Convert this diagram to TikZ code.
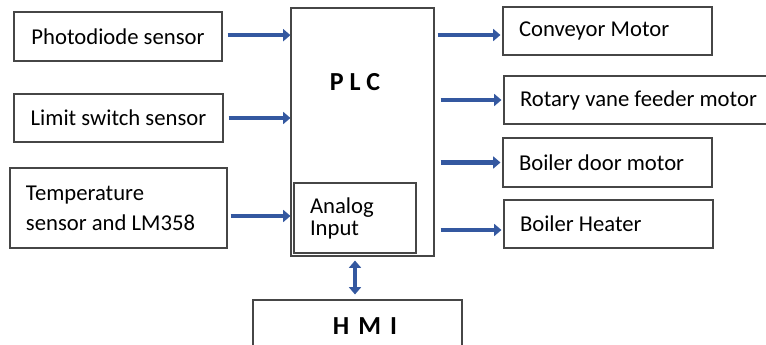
\documentclass[tikz,border=0pt]{standalone}
\usepackage{fontspec}
\setmainfont{Carlito}
\usepackage{xcolor}
\usetikzlibrary{arrows.meta}

\newdimen\pxu \pxu=0.75pt
\definecolor{flowblue}{RGB}{52,88,160}
\definecolor{boxgray}{RGB}{70,70,70}

\tikzset{
  block/.style={rectangle, draw=boxgray, line width=0.8pt, inner sep=0pt, font=\fontsize{17}{21}\selectfont},
  leftbox/.style={block, align=flush left, inner xsep=16\pxu, text width=#1},
  flow/.style={draw=flowblue, line width=3.4pt, -{Triangle[length=5.5pt,width=9pt]}},
  twoway/.style={draw=flowblue, line width=3.4pt, {Triangle[length=5.5pt,width=9pt]}-{Triangle[length=5.5pt,width=9pt]}},
  bigbold/.style={font=\fontsize{19.5}{23}\selectfont\bfseries}
}

\begin{document}
\begin{tikzpicture}[x=0.75pt,y=-0.75pt]
\useasboundingbox (0,0) rectangle (766,345);

% sensors
\node[block, minimum width=208\pxu, minimum height=49\pxu] (photo) at (118,36.5) {Photodiode sensor};
\node[block, minimum width=209\pxu, minimum height=48\pxu] (limit) at (118.5,118) {Limit switch sensor};
\node[leftbox=185\pxu, minimum height=80\pxu, font=\fontsize{17}{22.5}\selectfont] (temp) at (118.5,208) {Temperature\\sensor and LM358};

% controller
\node[block, minimum width=143\pxu, minimum height=248\pxu] (plc) at (362.5,132) {};
\node[bigbold] (plctext) at (355,82) {P L C};
\node[leftbox=90\pxu, minimum height=70\pxu, font=\fontsize{17}{16.5}\selectfont] (analog) at (355,218) {Analog\\Input};
\node[block, minimum width=209\pxu, minimum height=52\pxu, bigbold] (hmi) at (357.5,326) {\hspace*{15\pxu}H\hspace{9\pxu}M\hspace{9\pxu}I};

% actuators
\node[leftbox=177\pxu, minimum height=48\pxu] (conv) at (607.5,31) {Conveyor Motor};
\node[leftbox=262\pxu, minimum height=48\pxu] (rotary) at (651,100) {Rotary vane feeder motor};
\node[leftbox=177\pxu, minimum height=49\pxu] (door) at (607.5,162.5) {Boiler door motor};
\node[leftbox=177\pxu, minimum height=48\pxu] (heater) at (608.5,224) {Boiler Heater};

% arrows
\draw[flow, shorten <=3.75pt] ([yshift=1pt]photo.east) -- ([yshift=1pt]photo.east -| plc.west);
\draw[flow, shorten <=3.75pt] (limit.east) -- (limit.east -| plc.west);
\draw[flow, shorten <=2.25pt] ([yshift=-6pt]temp.east) -- ([yshift=-6pt]temp.east -| plc.west);
\draw[flow, shorten <=2.25pt, shorten >=1.5pt] ([yshift=-3pt]conv.west -| plc.east) -- ([yshift=-3pt]conv.west);
\draw[flow, shorten <=4.5pt, shorten >=1.5pt] (rotary.west -| plc.east) -- (rotary.west);
\draw[flow, shorten <=4.5pt, shorten >=1.5pt] (door.west -| plc.east) -- (door.west);
\draw[flow, shorten <=4.5pt, shorten >=1.5pt] ([yshift=-4.5pt]heater.west -| plc.east) -- ([yshift=-4.5pt]heater.west);
\draw[twoway, shorten <=3pt, shorten >=3.75pt] (analog.south |- plc.south) -- (analog.south |- hmi.north);
\end{tikzpicture}
\end{document}
